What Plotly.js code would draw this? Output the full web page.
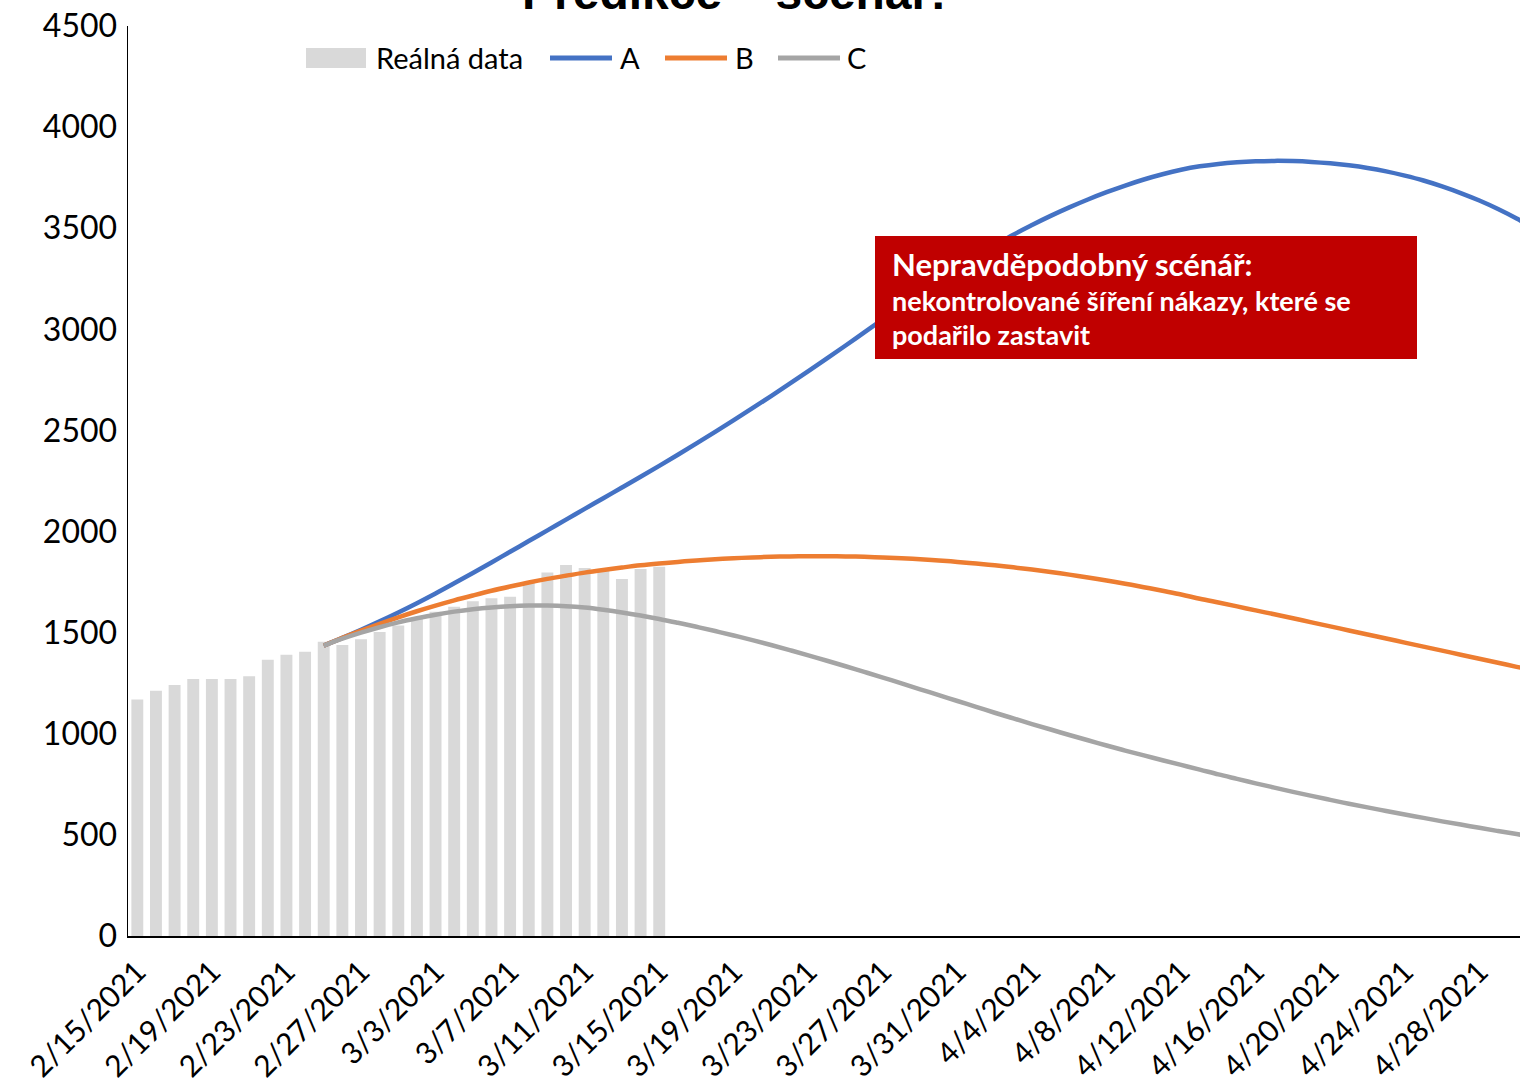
<!DOCTYPE html>
<html>
<head>
<meta charset="utf-8">
<script src="https://cdn.plot.ly/plotly-3.0.1.min.js"></script>
<style>html,body{margin:0;padding:0;background:#fff;overflow:hidden}</style>
</head>
<body>
<div id="chart" style="width:1520px;height:1088px"></div>
<script>
// ---- data ----
const chartTitle = "Predikce – scénář:";
const realStart = "2021-02-15";
const realData = [1170,1213,1241,1271,1271,1271,1284,1366,1391,1406,1455,1439,1467,1503,1535,1571,1604,1628,1655,1670,1678,1745,1797,1835,1820,1806,1765,1815,1826];
const scenarioStart = "2021-02-25";
const scenarioA = [1436,1474,1514,1556,1600,1646,1694,1744,1795,1847,1900,1953,2006,2059,2112,2165,2218,2271,2325,2380,2436,2493,2551,2610,2670,2731,2793,2856,2920,2985,3050,3114,3177,3238,3297,3356,3413,3468,3516,3561,3603,3642,3678,3711,3741,3767,3789,3806,3818,3826,3831,3833,3832,3828,3821,3811,3798,3781,3760,3736,3707,3674,3637,3595,3548,3496];
const scenarioB = [1436,1474,1510,1544,1576,1606,1634,1660,1684,1707,1728,1748,1766,1782,1797,1810,1822,1833,1842,1850,1857,1863,1868,1872,1875,1877,1878,1878,1877,1875,1872,1868,1863,1857,1850,1842,1833,1823,1812,1800,1787,1773,1758,1742,1725,1707,1689,1668,1649,1630,1610,1591,1571,1551,1531,1511,1491,1471,1451,1431,1411,1391,1371,1351,1331,1311];
const scenarioC = [1436,1470,1500,1527,1551,1571,1589,1604,1616,1625,1631,1634,1634,1631,1624,1613,1600,1585,1568,1549,1529,1508,1486,1463,1439,1414,1388,1361,1334,1306,1278,1249,1220,1191,1162,1133,1104,1076,1048,1021,994,968,942,917,893,869,846,823,799,777,755,734,713,693,673,654,636,618,601,584,567,551,535,519,504,489];
const seriesNames = ["Reálná data", "A", "B", "C"];
const tickDates = ["2021-02-15","2021-02-19","2021-02-23","2021-02-27","2021-03-03","2021-03-07","2021-03-11","2021-03-15","2021-03-19","2021-03-23","2021-03-27","2021-03-31","2021-04-04","2021-04-08","2021-04-12","2021-04-16","2021-04-20","2021-04-24","2021-04-28"];
const tickLabels = ["2/15/2021","2/19/2021","2/23/2021","2/27/2021","3/3/2021","3/7/2021","3/11/2021","3/15/2021","3/19/2021","3/23/2021","3/27/2021","3/31/2021","4/4/2021","4/8/2021","4/12/2021","4/16/2021","4/20/2021","4/24/2021","4/28/2021"];
const yTicks = [0,500,1000,1500,2000,2500,3000,3500,4000,4500];
const noteTitle = "Nepravděpodobný scénář:";
const noteLines = ["nekontrolované šíření nákazy, které se", "podařilo zastavit"];

// ---- helpers ----
function dates(start, n) {
  const out = [];
  const t0 = Date.parse(start + "T00:00:00Z");
  for (let i = 0; i < n; i++) {
    const d = new Date(t0 + i * 86400000);
    out.push(d.toISOString().slice(0, 10));
  }
  return out;
}
const W = 1520, H = 1088, L = 128, R = 1520, T = 26, B = 936;
const px = x => (x - L) / (R - L);
const py = y => (B - y) / (B - T);

const colors = { real: "#d9d9d9", A: "#4472C4", B: "#ED7D31", C: "#A5A5A5" };
const FONT = "Lato, Carlito, 'Open Sans', sans-serif";

const realX = dates(realStart, realData.length);
const scenX = dates(scenarioStart, scenarioA.length);

const traces = [
  { type: "bar", x: realX, y: realData, name: seriesNames[0], marker: { color: colors.real }, showlegend: false, hoverinfo: "x+y" },
  { type: "scatter", mode: "lines", x: scenX, y: scenarioA, name: seriesNames[1], line: { color: colors.A, width: 4.5, shape: "spline" }, showlegend: false },
  { type: "scatter", mode: "lines", x: scenX, y: scenarioB, name: seriesNames[2], line: { color: colors.B, width: 4.5, shape: "spline" }, showlegend: false },
  { type: "scatter", mode: "lines", x: scenX, y: scenarioC, name: seriesNames[3], line: { color: colors.C, width: 4.5, shape: "spline" }, showlegend: false }
];

const legendY = py(58);
const shapes = [
  { type: "rect", xref: "paper", yref: "paper", x0: px(306), x1: px(366), y0: py(68), y1: py(48), fillcolor: colors.real, line: { width: 0 } },
  { type: "line", xref: "paper", yref: "paper", x0: px(550), x1: px(612), y0: legendY, y1: legendY, line: { color: colors.A, width: 5 } },
  { type: "line", xref: "paper", yref: "paper", x0: px(665), x1: px(727), y0: legendY, y1: legendY, line: { color: colors.B, width: 5 } },
  { type: "line", xref: "paper", yref: "paper", x0: px(778), x1: px(840), y0: legendY, y1: legendY, line: { color: colors.C, width: 5 } },
  { type: "rect", xref: "paper", yref: "paper", x0: px(875), x1: px(1417), y0: py(359), y1: py(236), fillcolor: "#C00000", line: { width: 0 }, layer: "above" }
];

const legFont = { family: FONT, size: 29, color: "#000" };
const annotations = [
  { xref: "paper", yref: "paper", x: 0.435, y: py(-7), xanchor: "center", yanchor: "middle", text: "<b>" + chartTitle + "</b>", showarrow: false, font: { family: "'Liberation Sans', Arial, sans-serif", size: 48, color: "#000" } },
  { xref: "paper", yref: "paper", x: px(374), y: legendY, xanchor: "left", yanchor: "middle", text: seriesNames[0], showarrow: false, font: legFont },
  { xref: "paper", yref: "paper", x: px(618), y: legendY, xanchor: "left", yanchor: "middle", text: seriesNames[1], showarrow: false, font: legFont },
  { xref: "paper", yref: "paper", x: px(733), y: legendY, xanchor: "left", yanchor: "middle", text: seriesNames[2], showarrow: false, font: legFont },
  { xref: "paper", yref: "paper", x: px(845), y: legendY, xanchor: "left", yanchor: "middle", text: seriesNames[3], showarrow: false, font: legFont },
  { xref: "paper", yref: "paper", x: px(890), y: py(264), xanchor: "left", yanchor: "middle", text: "<b>" + noteTitle + "</b>", showarrow: false, font: { family: FONT, size: 31, color: "#fff" } },
  { xref: "paper", yref: "paper", x: px(890), y: py(300), xanchor: "left", yanchor: "middle", text: "<b>" + noteLines[0] + "</b>", showarrow: false, font: { family: FONT, size: 27, color: "#fff" } },
  { xref: "paper", yref: "paper", x: px(890), y: py(334), xanchor: "left", yanchor: "middle", text: "<b>" + noteLines[1] + "</b>", showarrow: false, font: { family: FONT, size: 27, color: "#fff" } }
];

const layout = {
  width: W, height: H,
  margin: { l: L, r: W - R, t: T, b: H - B, pad: 0 },
  paper_bgcolor: "#fff", plot_bgcolor: "#fff",
  showlegend: false,
  bargap: 0.36,
  font: { family: FONT, color: "#000" },
  xaxis: {
    type: "date",
    range: ["2021-02-14 12:00", "2021-04-30 04:20"],
    tickvals: tickDates, ticktext: tickLabels,
    tickangle: -45,
    tickfont: { family: FONT, size: 30, color: "#000" },
    showgrid: false, zeroline: false,
    showline: true, linecolor: "#000", linewidth: 2,
    ticks: "", ticklabelstandoff: 4
  },
  yaxis: {
    range: [0, 4500],
    tickvals: yTicks,
    tickfont: { family: FONT, size: 32, color: "#000" },
    showgrid: false, zeroline: false,
    showline: true, linecolor: "#000", linewidth: 1.5,
    ticks: "", ticklabelstandoff: 3
  },
  shapes: shapes,
  annotations: annotations
};

Plotly.newPlot("chart", traces, layout, { displayModeBar: false, staticPlot: true });
</script>
</body>
</html>
